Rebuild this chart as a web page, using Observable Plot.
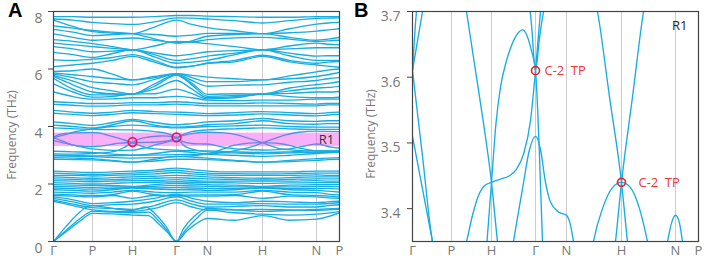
<!DOCTYPE html>
<html><head><meta charset="utf-8">
<script src="https://cdn.jsdelivr.net/npm/d3@7"></script>
<script src="https://cdn.jsdelivr.net/npm/@observablehq/plot@0.6"></script>
<style>
body{margin:0;background:#fff;}
#wrap{position:relative;width:706px;height:260px;font-family:"Open Sans",sans-serif;overflow:hidden;}
.panel{position:absolute;top:0;}
.big{position:absolute;font-family:"Liberation Sans",Arial,sans-serif;font-weight:bold;font-size:20px;line-height:1;color:#000;}
.ylab{position:absolute;font-family:"Open Sans",sans-serif;font-size:12px;color:#777;white-space:nowrap;transform:translate(-50%,-50%) rotate(-90deg);}
</style></head><body>
<div id="wrap"></div>
<script>
// high-symmetry path
const kPos = [0, 39, 79, 123, 154, 209, 263, 286];
const kLabels = ["Γ", "P", "H", "Γ", "N", "H", "N", "P"];
// sample positions along the path for coarse bands
const gridX = [0, 19.5, 39, 59, 79, 101, 123, 138.5, 154, 181.5, 209, 236, 263, 274.5, 286];

// 6-8 THz bands
const highBands = [
  [7.82,7.82,7.80,7.80,7.80,7.82,7.86,7.86,7.84,7.82,7.80,7.80,7.82,7.82,7.82],
  [7.74,7.70,7.62,7.58,7.55,7.64,7.78,7.77,7.74,7.68,7.60,7.68,7.76,7.77,7.78],
  [7.70,7.48,7.30,7.25,7.23,7.46,7.70,7.55,7.44,7.33,7.23,7.40,7.56,7.60,7.62],
  [7.50,7.42,7.34,7.28,7.23,7.05,6.90,6.98,7.14,7.20,7.23,7.26,7.32,7.36,7.40],
  [7.38,7.28,7.16,7.20,7.23,7.20,7.14,7.18,7.24,7.24,7.23,7.10,7.00,7.04,7.10],
  [7.22,7.10,7.00,7.04,7.08,7.00,6.92,6.94,7.02,7.08,7.10,7.04,6.96,6.98,7.00],
  [7.02,6.96,6.88,6.78,6.67,6.80,6.96,6.94,6.88,6.78,6.67,6.80,6.90,6.86,6.84],
  [6.90,6.84,6.78,6.72,6.67,6.56,6.46,6.52,6.60,6.64,6.67,6.70,6.74,6.74,6.74],
  [6.78,6.70,6.60,6.62,6.67,6.50,6.30,6.36,6.45,6.55,6.67,6.55,6.45,6.46,6.46],
  [6.58,6.50,6.40,6.54,6.67,6.42,6.20,6.24,6.30,6.50,6.67,6.46,6.30,6.30,6.30],
  [6.32,6.30,6.34,6.40,6.50,6.30,6.06,6.10,6.20,6.30,6.48,6.30,6.20,6.24,6.26],
  [6.08,6.14,6.20,6.30,6.44,6.24,6.04,6.10,6.20,6.25,6.44,6.25,6.14,6.10,6.06]
];
// 4.9-6 THz bands
const midBands = [
  [5.92,5.94,6.00,5.82,5.62,5.70,5.84,5.78,5.72,5.66,5.62,5.76,5.90,5.96,6.00],
  [5.86,5.80,5.74,5.66,5.62,5.74,5.84,5.70,5.56,5.56,5.62,5.66,5.74,5.80,5.88],
  [5.82,5.70,5.55,5.50,5.45,5.64,5.82,5.60,5.40,5.44,5.45,5.54,5.60,5.66,5.70],
  [5.78,5.58,5.35,5.24,5.13,5.48,5.80,5.50,5.12,5.14,5.13,5.34,5.46,5.50,5.56],
  [5.74,5.45,5.20,5.14,5.13,5.40,5.78,5.44,5.05,5.08,5.13,5.24,5.34,5.36,5.40],
  [5.68,5.30,5.10,5.10,5.13,5.30,5.60,5.30,5.00,5.04,5.13,5.15,5.20,5.20,5.22],
  [5.48,5.20,5.02,5.05,5.13,5.14,5.30,5.14,4.96,5.00,5.13,5.04,5.00,5.00,5.02],
  [5.20,5.04,4.95,4.96,5.00,5.00,5.05,5.00,4.92,4.90,4.92,4.92,4.95,4.95,4.95]
];
// 3.9-4.9 THz bands
const upperBands = [
  [4.86,4.83,4.80,4.80,4.83,4.83,4.86,4.83,4.80,4.80,4.82,4.80,4.78,4.80,4.80],
  [4.77,4.74,4.71,4.72,4.75,4.75,4.78,4.75,4.72,4.72,4.72,4.72,4.72,4.75,4.75],
  [4.56,4.50,4.46,4.50,4.56,4.52,4.50,4.48,4.45,4.48,4.52,4.48,4.45,4.48,4.50],
  [4.46,4.42,4.38,4.42,4.48,4.45,4.42,4.40,4.38,4.40,4.44,4.40,4.37,4.40,4.42],
  [4.16,4.10,4.04,4.14,4.25,4.14,4.06,4.10,4.16,4.20,4.28,4.20,4.18,4.20,4.20],
  [4.05,4.00,3.95,4.06,4.20,4.05,3.98,4.00,4.06,4.10,4.20,4.10,4.08,4.10,4.10]
];
// 2.7-3.2 THz bands
const lowerBands = [
  [3.14,3.12,3.10,3.04,3.00,3.06,3.14,3.10,3.04,3.00,2.96,3.00,3.06,3.08,3.10],
  [2.92,2.90,2.88,2.82,2.76,2.86,2.96,2.94,2.90,2.82,2.76,2.82,2.88,2.90,2.92],
  [2.86,2.85,2.84,2.80,2.76,2.80,2.86,2.86,2.85,2.80,2.76,2.78,2.82,2.85,2.86]
];
// dense 1.5-2.55 THz bands
const denseBands = [
  [2.45,2.42,2.40,2.42,2.45,2.48,2.55,2.50,2.45,2.42,2.42,2.42,2.45,2.45,2.45],
  [2.38,2.35,2.33,2.35,2.38,2.42,2.48,2.42,2.38,2.36,2.35,2.36,2.38,2.38,2.38],
  [2.30,2.30,2.28,2.30,2.32,2.35,2.40,2.35,2.32,2.30,2.30,2.30,2.32,2.30,2.30],
  [2.25,2.22,2.20,2.22,2.25,2.27,2.30,2.28,2.25,2.22,2.20,2.22,2.25,2.25,2.25],
  [2.18,2.16,2.14,2.15,2.18,2.20,2.22,2.20,2.18,2.16,2.14,2.16,2.18,2.18,2.18],
  [2.12,2.10,2.08,2.10,2.12,2.12,2.15,2.12,2.10,2.10,2.10,2.10,2.12,2.10,2.10],
  [2.05,2.02,2.00,2.02,2.05,2.06,2.08,2.06,2.05,2.04,2.02,2.04,2.05,2.05,2.05],
  [1.98,1.96,1.95,1.95,1.92,1.98,2.02,2.00,1.98,1.96,1.92,1.96,1.98,1.98,1.98],
  [1.92,1.90,1.88,1.90,1.90,1.92,1.95,1.93,1.92,1.90,1.90,1.90,1.92,1.92,1.90],
  [1.86,1.84,1.82,1.85,1.88,1.86,1.88,1.86,1.85,1.84,1.88,1.84,1.85,1.85,1.82],
  [1.80,1.78,1.75,1.80,1.86,1.82,1.80,1.80,1.78,1.80,1.86,1.80,1.78,1.75,1.72],
  [1.72,1.70,1.68,1.72,1.78,1.72,1.70,1.72,1.72,1.72,1.78,1.72,1.70,1.65,1.62],
  [1.65,1.62,1.60,1.63,1.75,1.63,1.60,1.62,1.62,1.63,1.75,1.63,1.60,1.58,1.55],
  [1.60,1.58,1.55,1.60,1.50,1.60,1.58,1.58,1.58,1.60,1.50,1.58,1.55,1.52,1.50]
];
// low optical bands 1.0-1.65 THz
const opticalBands = [
  [1.55,1.45,1.32,1.35,1.40,1.50,1.65,1.50,1.40,1.35,1.40,1.38,1.35,1.38,1.40],
  [1.50,1.38,1.25,1.28,1.30,1.40,1.55,1.40,1.30,1.30,1.32,1.30,1.30,1.32,1.35],
  [1.45,1.30,1.18,1.15,1.12,1.25,1.45,1.30,1.20,1.22,1.25,1.20,1.20,1.25,1.28],
  [1.40,1.25,1.10,1.05,1.05,1.15,1.35,1.20,1.10,1.10,1.12,1.10,1.08,1.10,1.12]
];
// acoustic branches [path position, THz]
const acousticBands = [
  [[0,0],[13,0.35],[26,0.70],[39,0.98],[59,0.96],[79,0.92],[95,0.90],[105,0.62],[114,0.32],[123,0],[132,0.32],[141,0.58],[154,0.80],[181,0.74],[209,0.90],[236,0.74],[263,0.78],[286,1.00]],
  [[0,0],[13,0.40],[26,0.78],[39,1.05],[59,1.02],[79,1.00],[95,1.02],[105,0.72],[114,0.37],[123,0],[132,0.40],[143,0.80],[154,1.09],[181,1.00],[209,0.95],[236,0.92],[263,0.95],[286,1.04]],
  [[0,0],[12,0.50],[24,0.95],[33,1.20],[39,1.25],[59,1.15],[79,1.08],[92,1.20],[102,0.95],[112,0.55],[123,0],[130,0.45],[140,0.85],[154,1.15],[181,1.10],[209,1.05],[236,1.08],[263,1.12],[286,1.15]]
];
// bands crossing the R1 window [path position, THz]
const r1Bands = [
  [[0,3.61],[4,3.70],[12,3.76],[24,3.78],[39,3.79],[48,3.76],[54,3.70],[63,3.61],[71,3.53],[79,3.44],[85,3.35],[92,3.27],[101,3.22],[123,3.18],[138,3.16],[154,3.15],[181,3.12],[209,3.10],[236,3.12],[263,3.15],[286,3.15]],
  [[0,3.61],[10,3.70],[20,3.80],[39,3.92],[59,4.00],[79,4.05],[101,4.00],[123,3.95],[138,3.97],[154,4.00],[181,4.02],[209,4.05],[236,4.00],[263,3.98],[286,3.98]],
  [[0,3.61],[10,3.48],[20,3.35],[30,3.31],[39,3.30],[47,3.32],[54,3.35],[60,3.39],[66,3.42],[72,3.435],[79,3.44],[88,3.445],[97,3.45],[104,3.46],[111,3.483],[118,3.534],[123,3.61],[128,3.70],[138,3.82],[154,3.88],[181,3.92],[209,3.95],[236,3.92],[263,3.90],[286,3.90]],
  [[0,3.51],[10,3.43],[20,3.35],[39,3.22],[59,3.17],[79,3.18],[92,3.26],[101,3.35],[110,3.43],[117,3.49],[123,3.51],[128,3.49],[133,3.44],[138,3.41],[146,3.395],[154,3.39],[158,3.375],[161,3.35],[175,3.25],[195,3.20],[215,3.18],[236,3.22],[248,3.30],[255,3.35],[259,3.378],[263,3.39],[267,3.378],[270,3.35],[278,3.28],[286,3.25]],
  [[0,3.05],[20,3.04],[39,3.06],[55,3.10],[63,3.15],[70,3.26],[74.5,3.35],[79,3.44],[83.5,3.53],[88,3.585],[94,3.625],[100,3.652],[106,3.668],[110,3.672],[114,3.665],[119,3.64],[123,3.61],[127,3.48],[130,3.35],[136,3.24],[145,3.16],[154,3.12],[181,3.08],[209,3.05],[236,3.08],[263,3.10],[286,3.10]],
  [[0,3.95],[39,3.90],[79,3.88],[101,3.82],[112,3.77],[119,3.68],[123,3.61],[127,3.66],[131,3.70],[140,3.76],[154,3.80],[170,3.78],[185,3.70],[197,3.57],[209,3.44],[215,3.35],[225,3.24],[240,3.18],[263,3.15],[286,3.15]],
  [[0,3.00],[39,2.98],[79,3.00],[123,3.02],[154,3.05],[175,3.12],[190,3.22],[203,3.35],[209,3.44],[220,3.57],[231,3.70],[245,3.80],[263,3.84],[286,3.82]],
  [[0,2.98],[39,2.95],[79,2.90],[123,2.95],[154,3.05],[170,3.22],[181,3.35],[190,3.40],[200,3.432],[209,3.44],[218,3.432],[227,3.40],[235,3.35],[250,3.22],[263,3.15],[286,3.12]]
];
// R1 window and topological points
const r1Window = [{lo: 3.30, hi: 3.77, from: 0, to: 286}];
const tpA = [{x: 79, f: 3.46}, {x: 123, f: 3.62}];
const tpB = [{x: 123, f: 3.61, label: "C-2\u2002TP"}, {x: 209, f: 3.44, label: "C-2\u2002TP"}];
const ticksA = [0, 2, 4, 6, 8];
const ticksB = [3.4, 3.5, 3.6, 3.7];

const rows = [];
[highBands, midBands, upperBands, lowerBands, denseBands, opticalBands].forEach((grp, g) =>
  grp.forEach((vals, b) => vals.forEach((f, i) => rows.push({band: `g${g}b${b}`, x: gridX[i], f}))));
[acousticBands, r1Bands].forEach((grp, g) =>
  grp.forEach((pts, b) => pts.forEach(([x, f]) => rows.push({band: `p${g}b${b}`, x, f}))));

const labelOf = new Map(kPos.map((p, i) => [p, kLabels[i]]));
const lineColor = "#17ade2";

function bandLines() {
  return Plot.line(rows, {x: "x", y: "f", z: "band", stroke: lineColor, strokeWidth: 1.35, curve: "monotone-x", clip: true});
}
function xAxis() {
  return Plot.axisX(kPos, {tickSize: 0, tickPadding: 4, tickFormat: d => labelOf.get(d), fontSize: 13, color: "#777", label: null});
}

const common = {width: 353, height: 260, marginTop: 11, marginBottom: 19,
  style: {fontFamily: "Open Sans, sans-serif", background: "transparent", overflow: "visible"}};

const plotA = Plot.plot({
  ...common, marginLeft: 53, marginRight: 14,
  x: {domain: [0, 286], label: null},
  y: {domain: [0, 8], label: null},
  marks: [
    Plot.ruleX(kPos.slice(1, -1), {stroke: "#cccccc", strokeWidth: 1}),
    bandLines(),
    Plot.rect(r1Window, {x1: "from", x2: "to", y1: "lo", y2: "hi", fill: "#ee44ee", fillOpacity: 0.42}),
    Plot.dot(tpA, {x: "x", y: "f", r: 4.3, stroke: "#e6155c", strokeWidth: 1.7, fill: "none"}),
    Plot.text(["R1"], {x: 273, y: 3.53, text: d => d, fontSize: 13, fill: "#333"}),
    Plot.axisY(ticksA, {tickSize: 5, tickFormat: () => "", color: "#444", label: null}),
    Plot.axisY(ticksA, {tickSize: 0, tickPadding: 11, dy: 7, fontSize: 14, color: "#777", label: null}),
    xAxis(),
    Plot.frame({stroke: "#444", strokeWidth: 1.2})
  ]
});

const plotB = Plot.plot({
  ...common, marginLeft: 59, marginRight: 8,
  x: {domain: [0, 286], label: null},
  y: {domain: [3.35, 3.7], label: null},
  marks: [
    Plot.ruleX(kPos.slice(1, -1), {stroke: "#cccccc", strokeWidth: 1}),
    bandLines(),
    Plot.dot(tpB, {x: "x", y: "f", r: 4, stroke: "#f02525", strokeWidth: 1.7, fill: "none"}),
    Plot.text(tpB.slice(0, 1), {x: "x", y: "f", text: "label", dx: 9, textAnchor: "start", fontSize: 13, fill: "#f03535"}),
    Plot.text(tpB.slice(1), {x: "x", y: "f", text: "label", dx: 17, textAnchor: "start", fontSize: 13, fill: "#f03535"}),
    Plot.text(["R1"], {frameAnchor: "top-right", dx: -11, dy: 9, text: d => d, fontSize: 13, fill: "#222"}),
    Plot.axisY(ticksB, {tickSize: 5, tickFormat: () => "", color: "#444", label: null}),
    Plot.axisY(ticksB, {tickSize: 0, tickPadding: 12, dy: 5, fontSize: 14, color: "#777", label: null, tickFormat: d3.format(".1f")}),
    xAxis(),
    Plot.frame({stroke: "#444", strokeWidth: 1.2})
  ]
});

const wrap = document.getElementById("wrap");
plotA.classList.add("panel"); plotA.style.left = "0px";
plotB.classList.add("panel"); plotB.style.left = "353px";
wrap.appendChild(plotA); wrap.appendChild(plotB);

function addDiv(cls, text, left, top) {
  const d = document.createElement("div");
  d.className = cls; d.textContent = text; d.style.left = left + "px"; d.style.top = top + "px";
  wrap.appendChild(d);
}
addDiv("big", "A", 8, 0);
addDiv("big", "B", 354, 0);
addDiv("ylab", "Frequency (THz)", 11, 135);
addDiv("ylab", "Frequency (THz)", 370, 134);
</script>
</body></html>
